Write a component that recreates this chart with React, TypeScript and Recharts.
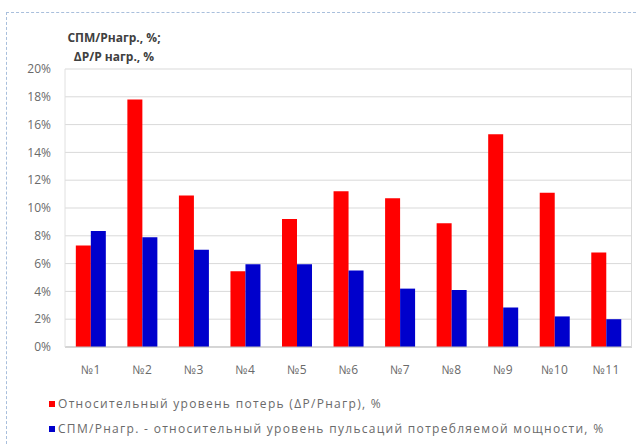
import { BarChart, Bar, XAxis, YAxis, CartesianGrid } from 'recharts';

// Measurement points №1..№11
const points = ['№1', '№2', '№3', '№4', '№5', '№6', '№7', '№8', '№9', '№10', '№11'];
// Relative loss level ΔP/Pнагр, %
const lossLevel = [7.3, 17.8, 10.9, 5.45, 9.2, 11.2, 10.7, 8.9, 15.3, 11.1, 6.8];
// Relative ripple level of consumed power СПМ/Рнагр, %
const rippleLevel = [8.35, 7.9, 7.0, 5.95, 5.95, 5.5, 4.2, 4.1, 2.85, 2.2, 2.0];
const yTicks = [0, 2, 4, 6, 8, 10, 12, 14, 16, 18, 20];

const lossName = 'Относительный уровень потерь (ΔР/Рнагр), %';
const rippleName = 'СПМ/Рнагр. - относительный уровень пульсаций потребляемой мощности, %';

const data = points.map((p, i) => ({ point: p, loss: lossLevel[i], ripple: rippleLevel[i] }));

const FONT = '"Open Sans", "Noto Sans", sans-serif';

function LegendBox() {
  const items = [
    { color: '#ff0000', label: lossName },
    { color: '#0000cc', label: rippleName },
  ];
  return (
    <div style={{ fontFamily: FONT, fontSize: 12, letterSpacing: 1.3, color: '#6a6a6a' }}>
      {items.map(it => (
        <div key={it.label} style={{ display: 'flex', alignItems: 'center', height: 25 }}>
          <span style={{ width: 6, height: 6, background: it.color, marginRight: 3, display: 'inline-block' }} />
          <span>{it.label}</span>
        </div>
      ))}
    </div>
  );
}

export default function App() {
  return (
    <div style={{ position: 'relative', width: 636, height: 444, background: '#fff', overflow: 'hidden' }}>
      <style>{'html,body{margin:0;overflow:hidden;background:#fff}'}</style>
      <div style={{ position: 'absolute', left: 6, top: 12, right: 0, bottom: 0, borderTop: '1px dashed #a9bfdc', borderLeft: '1px dashed #a9bfdc' }} />
      <div
        style={{
          position: 'absolute', left: 52, top: 28, width: 124, textAlign: 'center',
          fontFamily: FONT, fontSize: 12, fontWeight: 700, color: '#404040', lineHeight: '19px',
        }}
      >
        <div>СПМ/Рнагр., %;</div>
        <div>ΔР/Р нагр., %</div>
      </div>
      <BarChart
        width={636}
        height={444}
        data={data}
        margin={{ top: 69, right: 4, bottom: 72, left: 8 }}
        barCategoryGap="21%"
        barGap={0}
        style={{ position: 'absolute', left: 0, top: 0 }}
      >
        <CartesianGrid vertical={false} stroke="#d9d9d9" />
        <XAxis
          dataKey="point"
          height={25}
          tickLine={false}
          axisLine={{ stroke: '#bfbfbf' }}
          tickMargin={12}
          tick={{ fontSize: 12, fill: '#6a6a6a', fontFamily: FONT, letterSpacing: 0.5 }}
          interval={0}
        />
        <YAxis
          width={57}
          domain={[0, 20]}
          ticks={yTicks}
          tickFormatter={v => `${v}%`}
          tickLine={false}
          axisLine={{ stroke: '#e0e0e0' }}
          tickMargin={8}
          tick={{ fontSize: 12, fill: '#6a6a6a', fontFamily: FONT }}
        />
        <Bar dataKey="loss" name={lossName} fill="#ff0000" isAnimationActive={false} />
        <Bar dataKey="ripple" name={rippleName} fill="#0000cc" isAnimationActive={false} />
      </BarChart>
      <div style={{ position: 'absolute', left: 631, top: 69, width: 1, height: 278, background: '#d9d9d9' }} />
      <div style={{ position: 'absolute', left: 49, top: 391 }}>
        <LegendBox />
      </div>
    </div>
  );
}
